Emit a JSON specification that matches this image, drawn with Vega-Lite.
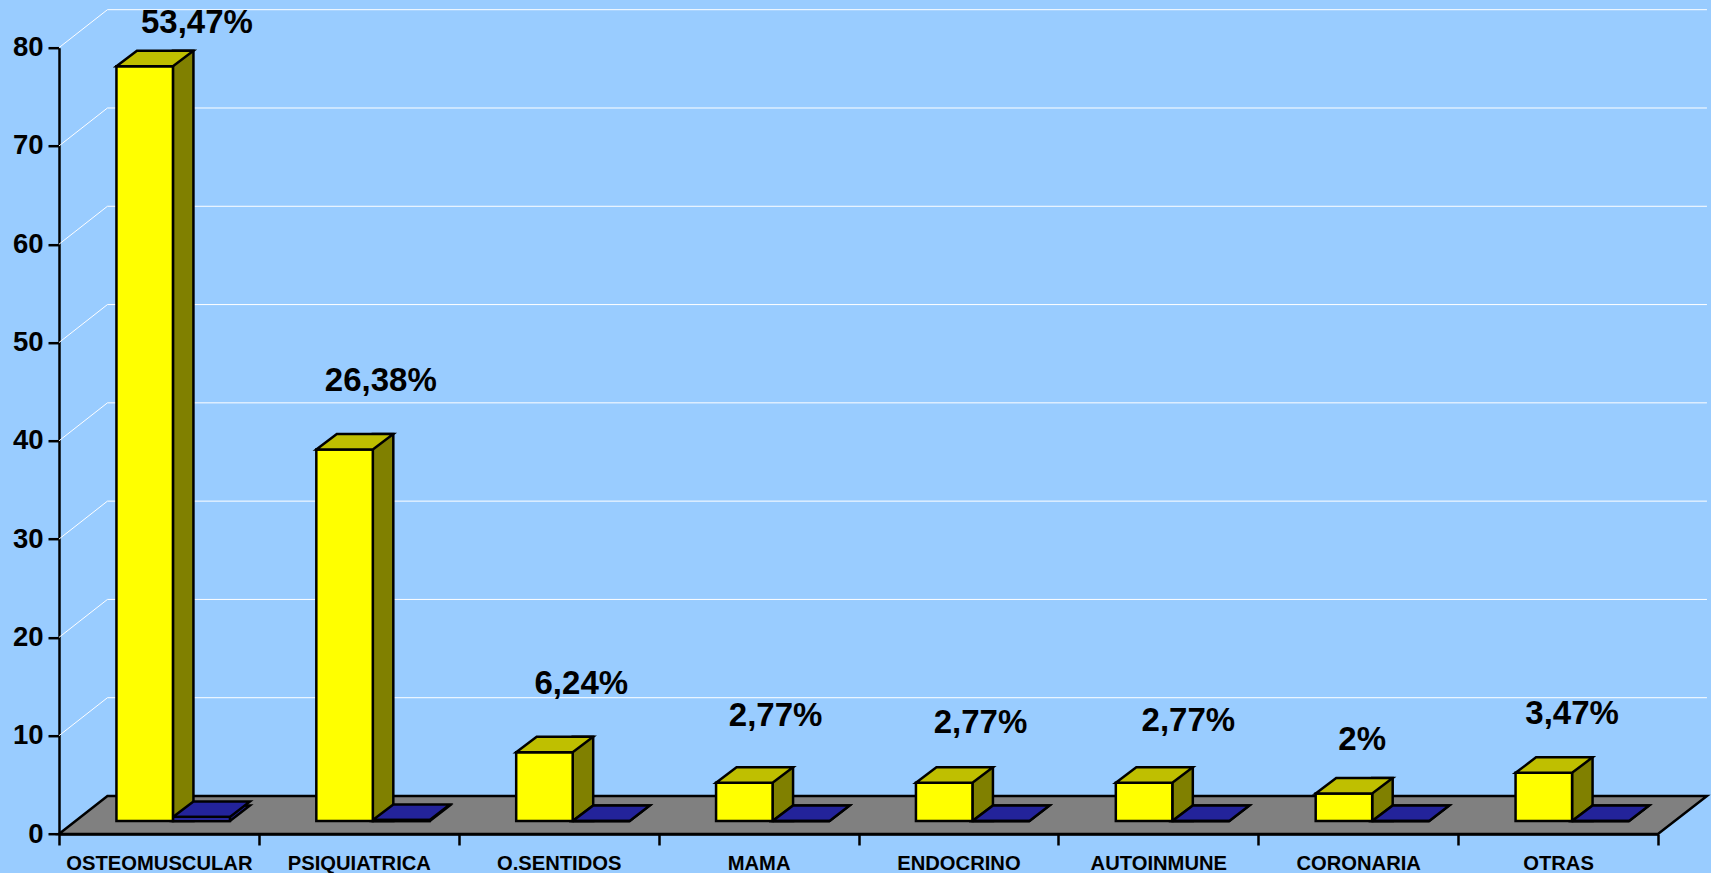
{
"$schema":"https://vega.github.io/schema/vega-lite/v6.json",
"background":"#99CCFF",
"autosize":{"type":"none"},
"padding":{"left":59,"top":47.7,"right":53,"bottom":39},
"width":1599,"height":786.3,
"datasets":{
"bars":[
{"category":"OSTEOMUSCULAR","amarillo":76.8,"azul":0.4,"label":"53,47%"},
{"category":"PSIQUIATRICA","amarillo":37.8,"azul":0.1,"label":"26,38%"},
{"category":"O.SENTIDOS","amarillo":7,"azul":0,"label":"6,24%"},
{"category":"MAMA","amarillo":3.9,"azul":0,"label":"2,77%"},
{"category":"ENDOCRINO","amarillo":3.9,"azul":0,"label":"2,77%"},
{"category":"AUTOINMUNE","amarillo":3.9,"azul":0,"label":"2,77%"},
{"category":"CORONARIA","amarillo":2.8,"azul":0,"label":"2%"},
{"category":"OTRAS","amarillo":4.9,"azul":0,"label":"3,47%"}
],
"ticks":[{"tick":0},{"tick":10},{"tick":20},{"tick":30},{"tick":40},{"tick":50},{"tick":60},{"tick":70},{"tick":80}]
},
"data":{"name":"bars"},
"encoding":{
"x":{"field":"category","type":"nominal","sort":null,"title":null,
 "scale":{"paddingInner":0,"paddingOuter":0},
 "axis":{"tickBand":"extent","labelAngle":0,"labelFont":"Liberation Sans","labelFontWeight":"bold","labelFontSize":20.2,"labelColor":"black","labelPadding":8,"tickSize":11,"tickWidth":2.5,"tickColor":"black","domainColor":"black","domainWidth":2.5,"labelLimit":0,"labelOverlap":false}}
},
"layer":[
{"data":{"name":"ticks"},"transform":[{"filter":"datum.tick>0"}],
 "mark":{"type":"point","shape":"M-100,0L-51.5,-38L1548,-38","size":4,"filled":false,"fill":null,"stroke":"white","strokeWidth":1,"opacity":1},
 "encoding":{"x":{"datum":"OSTEOMUSCULAR"},
  "y":{"field":"tick","type":"quantitative","title":null,"scale":{"domain":[0,80],"nice":false},
   "axis":{"values":[0,10,20,30,40,50,60,70,80],"grid":false,"labelFont":"Liberation Sans","labelFontWeight":"bold","labelFontSize":27.5,"labelColor":"black","labelPadding":5,"tickSize":11,"tickWidth":2.5,"tickColor":"black","domainColor":"black","domainWidth":2.5}}}},
{"data":{"name":"ticks"},"transform":[{"filter":"datum.tick==0"}],
 "mark":{"type":"point","shape":"M-100,0L-51.5,-38L1548,-38L1499,0Z","size":4,"filled":true,"fill":"#808080","stroke":"black","strokeWidth":2.5,"opacity":1},
 "encoding":{"x":{"datum":"OSTEOMUSCULAR"},"y":{"field":"tick","type":"quantitative"}}},
{"mark":{"type":"bar","width":20.5,"xOffset":24.25,"yOffset":-28.5,"y2Offset":-13,"fill":"#808000","stroke":"black","strokeWidth":2.5,"opacity":1},
 "encoding":{"y":{"field":"amarillo","type":"quantitative"},"y2":{"datum":0}}},
{"mark":{"type":"point","shape":"M14,-13L71,-13L91,-28.5L34.5,-28.5Z","size":4,"filled":true,"fill":"#23239A","stroke":"black","strokeWidth":2.5,"opacity":1},
 "encoding":{"y":{"datum":0}}},
{"mark":{"type":"point","shape":"M14,-13L71,-13L91,-28.5L34.5,-28.5Z","size":4,"filled":true,"fill":"#23239A","stroke":"black","strokeWidth":2.5,"opacity":1},
 "encoding":{"y":{"field":"azul","type":"quantitative"}}},
{"mark":{"type":"bar","width":57,"xOffset":42.5,"yOffset":-13,"y2Offset":-13,"fill":"#3333CC","stroke":"black","strokeWidth":2.5,"opacity":1},
 "encoding":{"y":{"field":"azul","type":"quantitative"},"y2":{"datum":0}}},
{"mark":{"type":"bar","width":56.5,"xOffset":-14.25,"yOffset":-13,"y2Offset":-13,"fill":"#FFFF00","stroke":"black","strokeWidth":2.5,"opacity":1},
 "encoding":{"y":{"field":"amarillo","type":"quantitative"},"y2":{"datum":0}}},
{"mark":{"type":"point","shape":"M-42.5,-13L14,-13L34.5,-28.5L-22,-28.5Z","size":4,"filled":true,"fill":"#BFBF00","stroke":"black","strokeWidth":2.5,"opacity":1},
 "encoding":{"y":{"field":"amarillo","type":"quantitative"}}},
{"transform":[{"filter":"datum.category=='OSTEOMUSCULAR'"}],"mark":{"type":"text","font":"Liberation Sans","fontWeight":"bold","fontSize":33,"align":"center","baseline":"alphabetic","color":"black","dx":38,"dy":-46.5},"encoding":{"y":{"field":"amarillo","type":"quantitative"},"text":{"field":"label"}}},
{"transform":[{"filter":"datum.category=='PSIQUIATRICA'"}],"mark":{"type":"text","font":"Liberation Sans","fontWeight":"bold","fontSize":33,"align":"center","baseline":"alphabetic","color":"black","dx":22,"dy":-71.8},"encoding":{"y":{"field":"amarillo","type":"quantitative"},"text":{"field":"label"}}},
{"transform":[{"filter":"datum.category=='O.SENTIDOS'"}],"mark":{"type":"text","font":"Liberation Sans","fontWeight":"bold","fontSize":33,"align":"center","baseline":"alphabetic","color":"black","dx":22.6,"dy":-71},"encoding":{"y":{"field":"amarillo","type":"quantitative"},"text":{"field":"label"}}},
{"transform":[{"filter":"datum.category=='MAMA'"}],"mark":{"type":"text","font":"Liberation Sans","fontWeight":"bold","fontSize":33,"align":"center","baseline":"alphabetic","color":"black","dx":17,"dy":-70},"encoding":{"y":{"field":"amarillo","type":"quantitative"},"text":{"field":"label"}}},
{"transform":[{"filter":"datum.category=='ENDOCRINO'"}],"mark":{"type":"text","font":"Liberation Sans","fontWeight":"bold","fontSize":33,"align":"center","baseline":"alphabetic","color":"black","dx":22,"dy":-62.7},"encoding":{"y":{"field":"amarillo","type":"quantitative"},"text":{"field":"label"}}},
{"transform":[{"filter":"datum.category=='AUTOINMUNE'"}],"mark":{"type":"text","font":"Liberation Sans","fontWeight":"bold","fontSize":33,"align":"center","baseline":"alphabetic","color":"black","dx":30,"dy":-64.7},"encoding":{"y":{"field":"amarillo","type":"quantitative"},"text":{"field":"label"}}},
{"transform":[{"filter":"datum.category=='CORONARIA'"}],"mark":{"type":"text","font":"Liberation Sans","fontWeight":"bold","fontSize":33,"align":"center","baseline":"alphabetic","color":"black","dx":4,"dy":-56.5},"encoding":{"y":{"field":"amarillo","type":"quantitative"},"text":{"field":"label"}}},
{"transform":[{"filter":"datum.category=='OTRAS'"}],"mark":{"type":"text","font":"Liberation Sans","fontWeight":"bold","fontSize":33,"align":"center","baseline":"alphabetic","color":"black","dx":14,"dy":-62},"encoding":{"y":{"field":"amarillo","type":"quantitative"},"text":{"field":"label"}}}
],
"config":{"view":{"stroke":null}}
}
